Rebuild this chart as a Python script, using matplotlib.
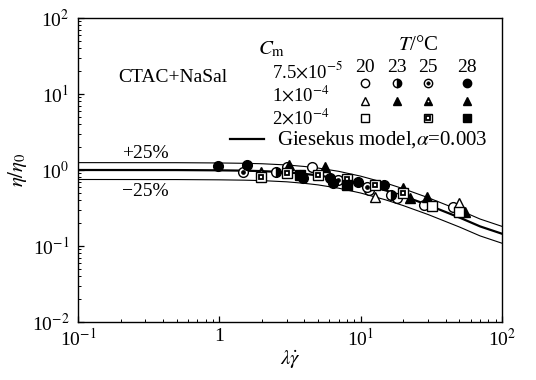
import numpy as np
import matplotlib
matplotlib.use("Agg")
import matplotlib.pyplot as plt
from matplotlib.lines import Line2D

plt.rcParams['font.family'] = ['Liberation Serif', 'DejaVu Serif']
plt.rcParams['mathtext.fontset'] = 'stix'

# ---- model curve ----
model_x = [0.1, 0.5, 1, 1.5, 2, 3, 4, 5, 7, 10, 15, 20, 30, 50, 70, 100]
model_y = [1.0, 0.998, 0.99, 0.98, 0.967, 0.932, 0.89, 0.849, 0.768, 0.664, 0.54, 0.454, 0.346, 0.237, 0.181, 0.145]
upper_factor = 1.25
lower_factor = 0.75

# ---- data: Cm = 7.5e-5 (circles) ----
c20_x = [3.01, 4.52, 11.5, 18.0, 27.9, 45]
c20_y = [1.10, 1.10, 0.55, 0.43, 0.35, 0.33]
c23_x = [2.52, 8.0, 16.5]
c23_y = [0.94, 0.72, 0.47]
c25_x = [1.47, 6.9, 11.0]
c25_y = [0.94, 0.74, 0.60]
c28_x = [0.98, 1.57, 3.72, 3.9, 6.1, 6.4, 9.5, 14.7]
c28_y = [1.13, 1.16, 0.86, 0.78, 0.78, 0.67, 0.70, 0.63]

# ---- data: Cm = 1e-4 (triangles) ----
t20_x = [12.6, 50]
t20_y = [0.44, 0.37]
t23_x = [3.1, 5.6, 19.9, 29.5]
t23_y = [1.16, 1.10, 0.58, 0.44]
t25_x = [1.97]
t25_y = [0.94]
t28_x = [22.4, 55]
t28_y = [0.43, 0.28]

# ---- data: Cm = 2e-4 (squares) ----
s20_x = [32, 50]
s20_y = [0.34, 0.28]
s25_x = [1.97, 3.01, 5.0, 8.0, 12.6, 19.9]
s25_y = [0.81, 0.91, 0.86, 0.76, 0.63, 0.50]
s28_x = [3.72, 8.0]
s28_y = [0.86, 0.63]

temps = ['20', '23', '25', '28']
conc_labels = [r'7.5$\times$10$^{-5}$', r'1$\times$10$^{-4}$', r'2$\times$10$^{-4}$']

W, H = 536, 380
fig = plt.figure(figsize=(W / 100, H / 100), dpi=100)
L, R, T, B = 78, 502, 18, 322
ax = fig.add_axes([L / W, 1 - B / H, (R - L) / W, (B - T) / H])
ax.set_xscale('log')
ax.set_yscale('log')
ax.set_xlim(0.1, 100)
ax.set_ylim(0.01, 100)

mx = np.array(model_x)
my = np.array(model_y)
ax.plot(mx, my, color='black', lw=1.6, zorder=2)
ax.plot(mx, my * upper_factor, color='black', lw=0.8, zorder=2)
ax.plot(mx, my * lower_factor, color='black', lw=0.8, zorder=2)

ms = 7
mew = 1.0


def draw_series(axx, kind, x, y, size=ms, trans=None):
    kw = {} if trans is None else dict(transform=trans, clip_on=False)
    base = dict(ls='none', mec='black', mew=mew, zorder=3)
    if kind == 'c20':
        axx.plot(x, y, marker='o', ms=size, mfc='white', **base, **kw)
    elif kind == 'c23':
        axx.plot(x, y, marker='o', ms=size, fillstyle='right', mfc='black',
                 markerfacecoloralt='white', **base, **kw)
    elif kind == 'c25':
        axx.plot(x, y, marker='o', ms=size, mfc='white', **base, **kw)
        axx.plot(x, y, ls='none', marker='o', ms=size * 0.4, mfc='black', mec='black', mew=0.5, zorder=3, **kw)
    elif kind == 'c28':
        axx.plot(x, y, marker='o', ms=size, mfc='black', **base, **kw)
    elif kind == 't20':
        axx.plot(x, y, marker='^', ms=size, mfc='white', **base, **kw)
    elif kind in ('t23', 't28'):
        axx.plot(x, y, marker='^', ms=size, mfc='black', **base, **kw)
    elif kind == 't25':
        axx.plot(x, y, marker='^', ms=size, mfc='black', **base, **kw)
        axx.plot(x, y, ls='none', marker='o', ms=size * 0.2, mfc='white', mec='white', mew=0, zorder=3, **kw)
    elif kind == 's20':
        axx.plot(x, y, marker='s', ms=size * 0.95, mfc='white', **base, **kw)
    elif kind == 's25':
        axx.plot(x, y, marker='s', ms=size * 0.95, mfc='white', **base, **kw)
        axx.plot(x, y, ls='none', marker='s', ms=size * 0.45, mfc='white', mec='black', mew=1.3, zorder=3, **kw)
    elif kind == 's28':
        axx.plot(x, y, marker='s', ms=size * 0.95, mfc='black', **base, **kw)


series = [('c20', c20_x, c20_y), ('c23', c23_x, c23_y), ('c25', c25_x, c25_y), ('c28', c28_x, c28_y),
          ('t20', t20_x, t20_y), ('t23', t23_x, t23_y), ('t25', t25_x, t25_y), ('t28', t28_x, t28_y),
          ('s20', s20_x, s20_y), ('s25', s25_x, s25_y), ('s28', s28_x, s28_y)]
for kind, x, y in series:
    draw_series(ax, kind, x, y)

# ticks
ax.set_xticks([0.1, 1, 10, 100])
ax.set_xticklabels([r'10$^{-1}$', '1', r'10$^{1}$', r'10$^{2}$'])
ax.set_yticks([0.01, 0.1, 1, 10, 100])
ax.set_yticklabels([r'10$^{-2}$', r'10$^{-1}$', r'10$^{0}$', r'10$^{1}$', r'10$^{2}$'])
ax.tick_params(which='both', direction='in', top=False, right=False, labelsize=14)
ax.tick_params(axis='x', which='major', pad=4)
ax.tick_params(axis='y', which='major', pad=6)
ax.tick_params(which='major', length=4, width=0.9)
ax.tick_params(which='minor', length=2.5, width=0.7)
for s in ax.spines.values():
    s.set_linewidth(1.0)

ax.set_xlabel(r'$\lambda\dot{\gamma}$', fontsize=15, labelpad=-1)
ax.set_ylabel(r'$\eta/\eta_0$', fontsize=15, labelpad=2)


def fxy(px, py):
    return px / W, 1 - py / H


# annotations
fig.text(*fxy(118, 78), 'CTAC+NaSal', fontsize=14, ha='left', va='center')
fig.text(*fxy(122, 153), '+25%', fontsize=14, ha='left', va='center')
fig.text(*fxy(122, 191), '\u221225%', fontsize=14, ha='left', va='center')

# legend (manual)
fig.text(*fxy(258, 49), r'$C_{\rm m}$', fontsize=15, ha='left', va='center')
fig.text(*fxy(398, 46), '$T$/\u00b0C', fontsize=15, ha='left', va='center')
for lab, yy in zip(conc_labels, [71, 95, 118]):
    fig.text(*fxy(272, yy), lab, fontsize=13.5, ha='left', va='center')
tx = [365, 397, 428, 467]
for t, x in zip(temps, tx):
    fig.text(*fxy(x, 67), t, fontsize=14, ha='center', va='center')


def leg_marker(kind, px, py):
    fx, fy = fxy(px, py)
    draw_series(ax, kind, [fx], [fy], size=6, trans=fig.transFigure)


for kind, x in zip(['c20', 'c23', 'c25', 'c28'], tx):
    leg_marker(kind, x, 83)
for kind, x in zip(['t20', 't23', 't25', 't28'], tx):
    leg_marker(kind, x, 101)
for kind, x in zip(['s20', 's25', 's28'], [tx[0], tx[2], tx[3]]):
    leg_marker(kind, x, 118)

x0, y0 = fxy(230, 139)
x1, _ = fxy(264, 139)
fig.add_artist(Line2D([x0, x1], [y0, y0], color='black', lw=1.6, transform=fig.transFigure))
fig.text(*fxy(277, 140), r'Giesekus model,$\alpha$=0.003', fontsize=15, ha='left', va='center')

fig.savefig('out.png', dpi=100)
